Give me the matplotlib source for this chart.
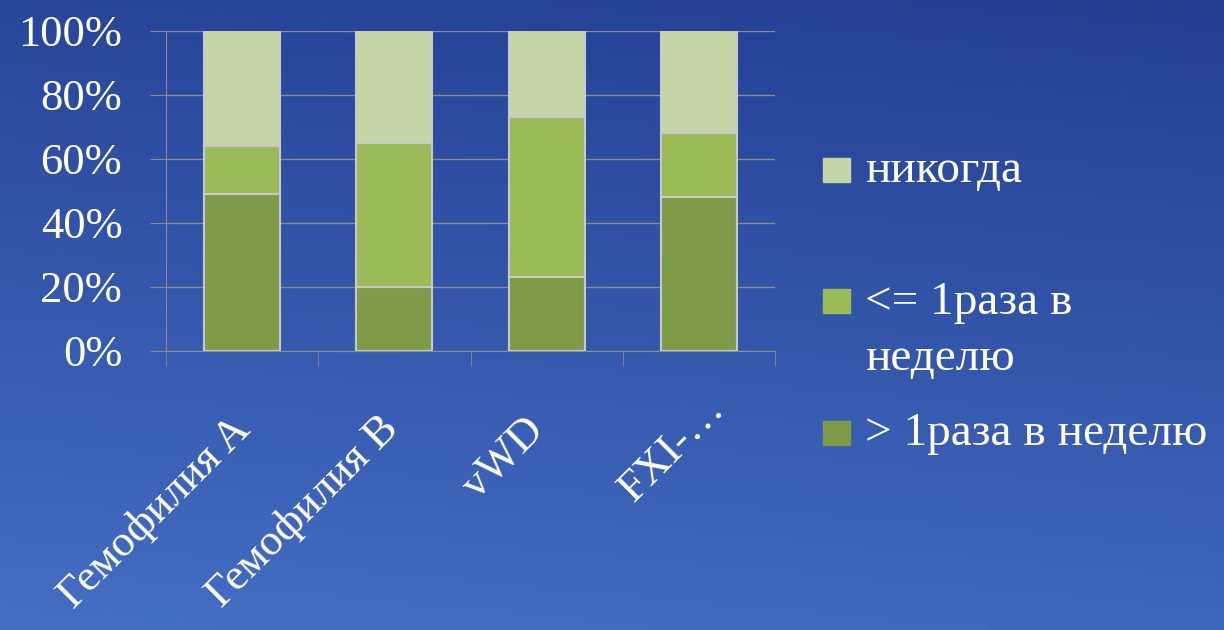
import numpy as np
import matplotlib.pyplot as plt
from matplotlib.patches import Rectangle
from matplotlib.transforms import ScaledTranslation

###данные###
categories = ['Гемофилия A', 'Гемофилия B', 'vWD', 'FXI-…']
more_than_once = [49, 20, 23, 48]      # > 1раза в неделю
once_or_less = [15, 45, 50, 20]        # <= 1раза в неделю
never = [36, 35, 27, 32]               # никогда
series = [more_than_once, once_or_less, never]
series_labels = ['> 1раза в неделю', '<= 1раза в\nнеделю', 'никогда']
colors = ['#7F9A48', '#9BBB59', '#C5D6A6']
yticks = [0, 20, 40, 60, 80, 100]
ytick_labels = ['0%', '20%', '40%', '60%', '80%', '100%']

plt.rcParams['font.family'] = ['Liberation Serif', 'DejaVu Serif']

W, H = 1224, 630
fig = plt.figure(figsize=(W / 100, H / 100), dpi=100)

###фон - синий градиент###
bg = fig.add_axes([0, 0, 1, 1], zorder=-1)
yy, xx = np.mgrid[0:1:200j, 0:1:300j]
t = 0.85 * yy + 0.15 * (1 - xx)
top = np.array([35, 63, 146]) / 255
bottom = np.array([68, 110, 196]) / 255
img = top[None, None, :] * (1 - t[..., None]) + bottom[None, None, :] * t[..., None]
bg.imshow(img, extent=[0, 1, 0, 1], aspect='auto', origin='upper')
bg.axis('off')

###график###
ax = fig.add_axes([166 / W, 1 - 351 / H, (775 - 166) / W, (351 - 31) / H])
ax.set_facecolor('none')
x = np.arange(len(categories))
base = np.zeros(len(categories))
for vals, col in zip(series, colors):
    ax.bar(x, vals, 0.5, bottom=base, color=col, edgecolor='#C8C8C8', linewidth=1.5, zorder=3)
    base = base + np.array(vals)

ax.set_xlim(-0.5, 3.5)
ax.set_ylim(0, 100)
ax.set_yticks(yticks, ytick_labels)
ax.yaxis.grid(True, color='#8C8C8C', linewidth=1)
ax.set_axisbelow(True)
for s in ['top', 'right']:
    ax.spines[s].set_visible(False)
for s in ['left', 'bottom']:
    ax.spines[s].set_color('#8C8C8C')
ax.tick_params(axis='y', length=11.5, color='#8C8C8C', labelcolor='white', labelsize=32, pad=20)
ax.set_xticks(x, [''] * len(categories))
ax.set_xticks(np.arange(-0.5, 4, 1), minor=True)
ax.tick_params(axis='x', which='major', length=0)
ax.tick_params(axis='x', which='minor', length=11, color='#8C8C8C')

# подписи категорий под 45 градусов (конец строки у центра столбца)
label_shift = [(10, 80), (6, 79), (-1, 81), (27, 59)]
for i, (cat, (dx, dy)) in enumerate(zip(categories, label_shift)):
    tr = ax.get_xaxis_transform() + ScaledTranslation(dx / 100, -dy / 100, fig.dpi_scale_trans)
    ax.text(x[i], 0, cat, transform=tr, rotation=45, ha='right', va='baseline',
            rotation_mode='anchor', color='white', fontsize=32)

###легенда###
square_base = [182, 313, 445]
text_base = [182, 370, 445]     # для двух строк - базовая линия последней строки
for lab, col, ys, yt in zip(series_labels[::-1], colors[::-1], square_base, text_base):
    fig.add_artist(Rectangle((823 / W, 1 - ys / H), 27 / W, 24 / H,
                             transform=fig.transFigure, color=col))
    fig.text(865 / W, 1 - yt / H, lab, color='white', fontsize=34,
             va='baseline', ha='left', linespacing=1.4)

fig.savefig('out.png', dpi=100)
